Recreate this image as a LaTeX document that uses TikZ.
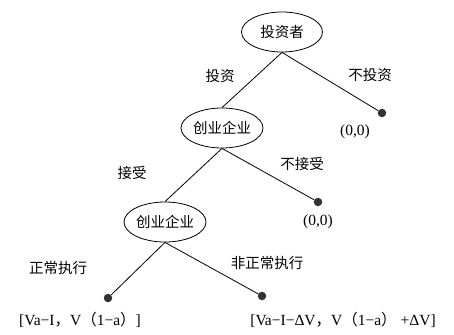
\documentclass[tikz,border=0pt]{standalone}
\usepackage{fontspec}
\setmainfont{Liberation Serif}
\newfontfamily\cjk{Noto Sans CJK SC}
\usetikzlibrary{shapes.geometric}
\tikzset{
  player/.style={ellipse,draw,line width=0.8pt,minimum width=81pt,minimum height=40pt,inner sep=0pt,font=\cjk\fontsize{14.5}{16}\selectfont},
  leaf/.style={circle,fill=black!80,inner sep=0pt,minimum size=8.5pt},
  move/.style={font=\cjk\fontsize{14.5}{16}\selectfont},
  pay/.style={font=\fontsize{15.5}{17}\selectfont},
  branch/.style={line width=0.8pt}
}

\begin{document}
\begin{tikzpicture}[x=1pt,y=-1pt]
\useasboundingbox (0,0) rectangle (454,334);
% decision nodes
\node[player] (inv) at (282,32) {投资者};
\node[player] (ent1) at (222,128) {创业企业};
\node[player] (ent2) at (165,222) {创业企业};
% end points
\node[leaf] (out1) at (382,113) {};
\node[leaf] (out2) at (318,202) {};
\node[leaf] (out3) at (108,298) {};
\node[leaf] (out4) at (262,296) {};
% branches
\draw[branch] (inv.south) -- (ent1.north);
\draw[branch] (inv.south) -- (out1);
\draw[branch] (ent1.south) -- (ent2.north);
\draw[branch] (ent1.south) -- (out2);
\draw[branch] (ent2.south) -- (out3);
\draw[branch] (ent2.south) -- (out4);
% moves
\node[move] (m1) at (220,76) {投资};
\node[move] (m2) at (370,75) {不投资};
\node[move] (m3) at (132,173) {接受};
\node[move] (m4) at (302,164) {不接受};
\node[move] (m5) at (58,268) {正常执行};
\node[move] (m6) at (267,263) {非正常执行};
% payoffs
\node[pay] (p1) at (355,132) {(0,0)};
\node[pay] (p2) at (318,222) {(0,0)};
\node[pay] (p3) at (80,320) {[Va−I{\cjk，}V{\cjk（}1−a{\cjk）}]};
\node[pay] (p4) at (343,320) {[Va−I−ΔV{\cjk，}V{\cjk（}1−a{\cjk）} +ΔV]};
\end{tikzpicture}
\end{document}
